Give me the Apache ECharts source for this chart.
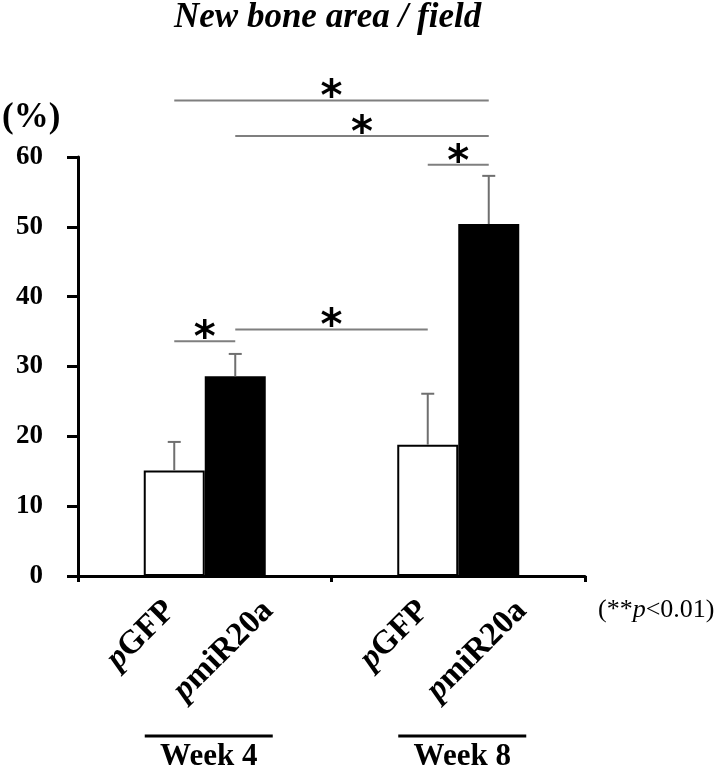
<!DOCTYPE html>
<html><head><meta charset="utf-8">
<script src="https://cdn.jsdelivr.net/npm/echarts@6/dist/echarts.min.js"></script>
<style>html,body{margin:0;padding:0;background:#fff}#c{width:720px;height:772px}</style>
</head><body><div id="c"></div>
<script>
// ---- data ----
const categories = ['Week 4', 'Week 8'];
const groupNames = ['pGFP', 'pmiR20a'];
const pGFPMean = [15.1, 18.8];
const pmiR20aMean = [28.6, 50.4];
const pGFPErrTop = [19.2, 26.1];
const pmiR20aErrTop = [31.8, 57.3];
const yMin = 0, yMax = 60, yStep = 10;
// significance brackets; bars: 0 W4 pGFP, 1 W4 pmiR20a, 2 W8 pGFP, 3 W8 pmiR20a
const bracketFrom = [0, 1, 2, 0, 1];
const bracketTo = [3, 3, 3, 1, 2];
const bracketLevel = [68.1, 63.0, 58.9, 33.6, 35.3];
const bracketMark = ['*', '*', '*', '*', '*'];
const titleText = 'New bone area / field';
const unitText = '(%)';

// ---- chart ----
const SERIF = "'Liberation Serif','Times New Roman',serif";
const BW = 61;
const chart = echarts.init(document.getElementById('c'));

function barX(api, b) {
  const cat = Math.floor(b / 2);
  const side = b % 2 ? 1 : -1;
  return api.coord([cat, 0])[0] + side * BW / 2;
}
function richName(n) { return '{i|' + n[0] + '}{b|' + n.slice(1) + '}'; }

const errData = categories.map((c, i) => [i, pGFPErrTop[i], pGFPMean[i], 0])
  .concat(categories.map((c, i) => [i, pmiR20aErrTop[i], pmiR20aMean[i], 1]));
const labelData = [];
categories.forEach((c, i) => { labelData.push([i, 0, 0]); labelData.push([i, 0, 1]); });
const bracketData = bracketLevel.map((v, i) => [0, v, i]);

chart.setOption({
  animation: false,
  title: [
    { text: titleText, left: 174, top: 0, padding: 0,
      textStyle: { fontFamily: SERIF, fontSize: 35, fontWeight: 'bold', fontStyle: 'italic', color: '#000' } },
    { text: unitText, left: 2, top: 100, padding: 0,
      textStyle: { fontFamily: SERIF, fontSize: 35, fontWeight: 'bold', color: '#000' } },
    { text: '{a|(**}{b|p}{a|<0.01)}', left: 598, top: 597, padding: 0,
      textStyle: { fontWeight: 'normal', rich: {
        a: { fontFamily: SERIF, fontSize: 26, fontWeight: 'normal', color: '#000' },
        b: { fontFamily: SERIF, fontSize: 26, fontWeight: 'normal', fontStyle: 'italic', color: '#000' } } } }
  ],
  grid: { left: 78, right: 135, top: 157, bottom: 193, containLabel: false },
  xAxis: {
    type: 'category', data: categories, boundaryGap: true,
    axisLine: { lineStyle: { color: '#000', width: 3 } },
    axisTick: { show: true, length: 6, lineStyle: { color: '#000', width: 3 } },
    axisLabel: { margin: 165, padding: [0, 0, 0, 8], fontFamily: SERIF, fontSize: 31, fontWeight: 'bold', color: '#000' }
  },
  yAxis: {
    type: 'value', min: yMin, max: yMax, interval: yStep,
    splitLine: { show: false },
    axisLine: { show: true, lineStyle: { color: '#000', width: 3 } },
    axisTick: { show: true, length: 11, lineStyle: { color: '#000', width: 3 } },
    axisLabel: { margin: 35, fontFamily: SERIF, fontSize: 27, fontWeight: 'bold', color: '#000' }
  },
  series: [
    { name: groupNames[0], type: 'bar', data: pGFPMean, barWidth: BW, barGap: '0%', z: 2,
      itemStyle: { color: '#fff', borderColor: '#000', borderWidth: 2 } },
    { name: groupNames[1], type: 'bar', data: pmiR20aMean, barWidth: BW, barGap: '0%', z: 2,
      itemStyle: { color: '#000' } },
    { type: 'custom', data: errData, encode: { x: 0, y: 1 }, z: 3, silent: true,
      renderItem(params, api) {
        const cat = api.value(0), side = api.value(3);
        const x = barX(api, cat * 2 + side);
        const yT = api.coord([cat, api.value(1)])[1];
        const yB = api.coord([cat, api.value(2)])[1];
        const st = { stroke: '#6f6f6f', lineWidth: 2 };
        return { type: 'group', children: [
          { type: 'line', shape: { x1: x, y1: yB, x2: x, y2: yT }, style: st },
          { type: 'line', shape: { x1: x - 6.5, y1: yT, x2: x + 6.5, y2: yT }, style: st }
        ] };
      } },
    { type: 'custom', data: bracketData, encode: { x: 0, y: 1 }, z: 3, silent: true,
      renderItem(params, api) {
        const i = api.value(2);
        const xa = barX(api, bracketFrom[i]), xb = barX(api, bracketTo[i]);
        const y = api.coord([0, api.value(1)])[1];
        return { type: 'group', children: [
          { type: 'line', shape: { x1: xa, y1: y, x2: xb, y2: y }, style: { stroke: '#7f7f7f', lineWidth: 2 } },
          { type: 'text', x: (xa + xb) / 2, y: y - 1,
            style: { legacy: false, text: bracketMark[i], fontFamily: 'DejaVu Sans', fontWeight: 'bold', fontSize: 42, fill: '#000', align: 'center', verticalAlign: 'middle' } }
        ] };
      } },
    { type: 'custom', data: labelData, encode: { x: 0, y: 1 }, z: 3, silent: true,
      renderItem(params, api) {
        const cat = api.value(0), side = api.value(2);
        const base = api.coord([cat, 0]);
        const x = barX(api, cat * 2 + side) + (side ? 33 : -4);
        const y = base[1] + 30;
        const children = [
          { type: 'text', x: x, y: y, rotation: Math.PI / 4,
            style: { legacy: false, text: richName(groupNames[side]), align: 'right', verticalAlign: 'middle',
              rich: {
                i: { fontFamily: SERIF, fontSize: 33, fontWeight: 'bold', fontStyle: 'italic', fill: '#000' },
                b: { fontFamily: SERIF, fontSize: 33, fontWeight: 'bold', fill: '#000' } } } }
        ];
        if (side === 0) {
          const cx = base[0] + 4;
          children.push({ type: 'line', shape: { x1: cx - 64, y1: base[1] + 160, x2: cx + 64, y2: base[1] + 160 },
            style: { stroke: '#000', lineWidth: 3 } });
        }
        return { type: 'group', children };
      } }
  ]
});
</script></body></html>
